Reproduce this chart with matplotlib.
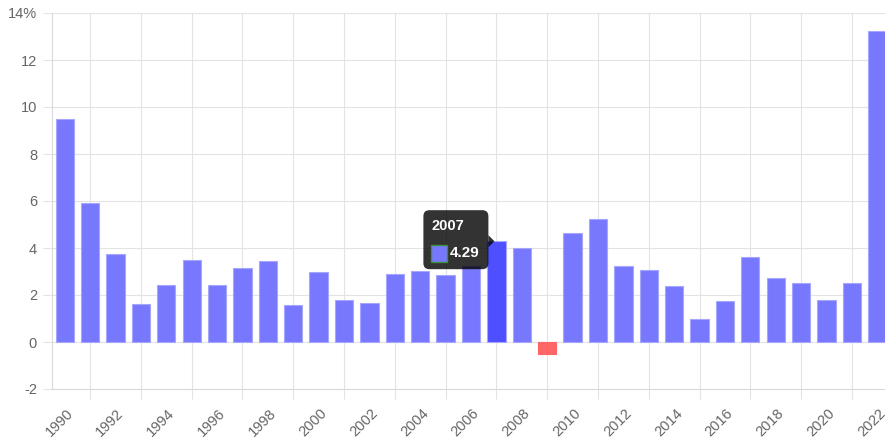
#!/usr/bin/env python3
"""
Yearly rate bar chart, 1990-2022, with hover tooltip on 2007
"""
import matplotlib
matplotlib.use("Agg")
import matplotlib.pyplot as plt
import matplotlib.transforms as mtransforms
from matplotlib.patches import FancyBboxPatch, Polygon, Rectangle

years = list(range(1990, 2023))
values = [9.5, 5.9, 3.76, 1.6, 2.43, 3.49, 2.43, 3.16, 3.43, 1.56,
          2.97, 1.79, 1.68, 2.89, 3.01, 2.84, 3.22, 4.29, 4.0, -0.51,
          4.63, 5.22, 3.22, 3.05, 2.38, 1.0, 1.75, 3.6, 2.72, 2.51,
          1.8, 2.5, 13.25]
y_ticks = [-2, 0, 2, 4, 6, 8, 10, 12, 14]
y_labels = ["-2", "0", "2", "4", "6", "8", "10", "12", "14%"]
hover_year = 2007

BAR = "#7878ff"
BAR_EDGE = "#a6a6ff"
HOVER = "#4f4fff"
NEG = "#ff6666"
GRID = "#e3e3e3"
TEXT = "#666666"

plt.rcParams["font.family"] = ["Liberation Sans", "DejaVu Sans"]

fig = plt.figure(figsize=(8.85, 4.41), dpi=100)
# plot area runs slightly past the right edge, as in the reference
ax = fig.add_axes([52 / 885, 52 / 441, 838 / 885, 376 / 441])

x = list(range(len(years)))
colors = []
for yr, v in zip(years, values):
    if yr == hover_year:
        colors.append(HOVER)
    elif v < 0:
        colors.append(NEG)
    else:
        colors.append(BAR)
edges = [BAR_EDGE if v >= 0 else NEG for v in values]
ax.bar(x, values, width=0.72, color=colors, edgecolor=edges,
       linewidth=0.8, zorder=2)

ax.set_xlim(-0.5, len(years) - 0.5)
ax.set_ylim(-2, 14)

# gridlines / ticks at odd years, labels at even years
ax.set_xticks([i for i in x if i % 2 == 1])
ax.set_xticklabels([])
ax.set_xticks([i for i in x if i % 2 == 0], minor=True)
ax.set_xticklabels([str(years[i]) for i in x if i % 2 == 0], minor=True,
                   rotation=45, ha="right", va="center",
                   rotation_mode="anchor")
ax.tick_params(axis="x", which="major", length=7.5, color=GRID, width=0.8)
ax.tick_params(axis="x", which="minor", length=0, pad=16,
               labelsize=10.5, labelcolor=TEXT)
# nudge rotated labels to the right, like the reference
shift = mtransforms.ScaledTranslation(0.06, 0, fig.dpi_scale_trans)
for lab in ax.get_xticklabels(minor=True):
    lab.set_transform(lab.get_transform() + shift)

ax.set_yticks(y_ticks)
ax.set_yticklabels(y_labels)
ax.tick_params(axis="y", length=6.5, color=GRID, width=0.8, pad=4.3,
               labelsize=10.5, labelcolor=TEXT)

ax.grid(True, color=GRID, linewidth=0.8, zorder=0)
ax.set_axisbelow(True)
for side in ["top", "right"]:
    ax.spines[side].set_visible(False)
for side in ["left", "bottom"]:
    ax.spines[side].set_color("#dadada")
    ax.spines[side].set_linewidth(0.8)

# tooltip, laid out in pixels around the top of the hovered bar
hi = years.index(hover_year)
trans = mtransforms.Affine2D() + mtransforms.ScaledTranslation(
    hi, values[hi], ax.transData)
box = FancyBboxPatch((-73, -28), 65, 59, boxstyle="round,pad=0,rounding_size=6",
                     facecolor=(0, 0, 0, 0.8), edgecolor="none",
                     transform=trans, zorder=5, clip_on=False)
fig.patches.append(box)
caret = Polygon([(-2, 0), (-8, 6), (-8, -6)], closed=True,
                facecolor=(0, 0, 0, 0.8), edgecolor="none",
                transform=trans, zorder=5)
fig.patches.append(caret)
swatch = Rectangle((-65, -21), 16, 17, facecolor=BAR, edgecolor="#3d8f3d",
                   linewidth=1.0, transform=trans, zorder=6)
fig.patches.append(swatch)
fig.text(-65, 15.5, str(hover_year), transform=trans, color="white",
         fontsize=10.5, fontweight="bold", va="center", ha="left", zorder=7)
fig.text(-47, -11.5, f"{values[hi]:.2f}", transform=trans, color="white",
         fontsize=11, fontweight="bold", va="center", ha="left", zorder=7)

plt.savefig("out.png", dpi=100)
